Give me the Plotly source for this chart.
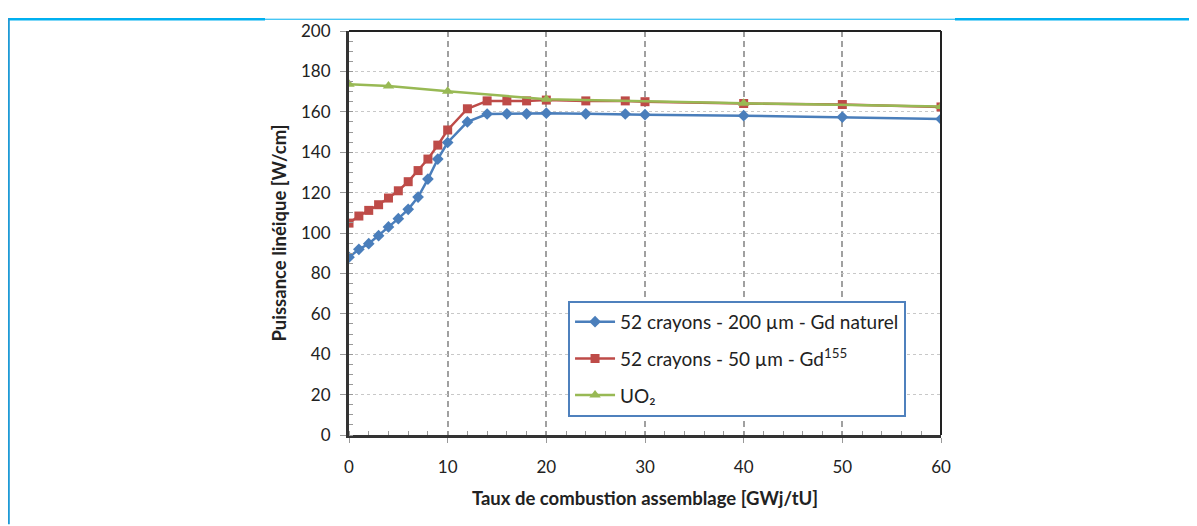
import plotly.graph_objects as go

# Data
burnup = [0, 1, 2, 3, 4, 5, 6, 7, 8, 9, 10, 12, 14, 16, 18, 20, 24, 28, 30, 40, 50, 60]
gd_nat_200 = [88, 91.9, 94.7, 98.7, 103, 107.1, 111.7, 117.8, 126.7, 136.6, 144.8, 155, 158.9,
              159, 159, 159.3, 159, 158.9, 158.6, 158.1, 157.4, 156.4]
gd155_50 = [104.9, 108.4, 111.2, 114, 117.3, 120.9, 125.4, 130.9, 136.6, 143.5, 151, 161.5, 165.4,
            165.4, 165.4, 165.8, 165.4, 165.4, 165, 164.1, 163.6, 162.4]
burnup_uo2 = [0, 4, 10, 20, 40, 60]
uo2 = [173.6, 172.8, 170.2, 166.2, 164.2, 162.6]

names = ["52 crayons - 200 µm - Gd naturel",
         "52 crayons - 50 µm - Gd<sup>155</sup>",
         "UO₂"]

x_ticks = [0, 10, 20, 30, 40, 50, 60]
y_ticks = [0, 20, 40, 60, 80, 100, 120, 140, 160, 180, 200]

BLUE = "#4A7EBB"
RED = "#BE4B48"
GREEN = "#98B954"
FONT = "Lato"

# the page body adds an 8px offset; figure is sized to fit the window
W, H = 1189, 518
L, R, T, B = 341, 933, 15, 427   # plot area in figure pixels

fig = go.Figure()
fig.add_trace(go.Scatter(x=burnup, y=gd_nat_200, name=names[0], mode="lines+markers",
                         line=dict(color=BLUE, width=2.5),
                         marker=dict(symbol="diamond", size=9, color=BLUE),
                         legendgroup="a"))
fig.add_trace(go.Scatter(x=burnup, y=gd155_50, name=names[1], mode="lines+markers",
                         line=dict(color=RED, width=2.5),
                         marker=dict(symbol="square", size=9, color=RED),
                         legendgroup="b"))
fig.add_trace(go.Scatter(x=burnup_uo2, y=uo2, name=names[2], mode="lines+markers",
                         line=dict(color=GREEN, width=2.5),
                         marker=dict(symbol="triangle-up", size=10, color=GREEN),
                         legendgroup="c"))

fig.update_layout(
    width=W, height=H,
    margin=dict(l=L, r=W - R, t=T, b=H - B),
    paper_bgcolor="white", plot_bgcolor="white",
    font=dict(family=FONT, size=16, color="#222"),
    showlegend=True,
    legend=dict(x=0.37, y=0.332, xanchor="left", yanchor="top",
                bgcolor="white", bordercolor="#4F81BD", borderwidth=2,
                font=dict(family=FONT, size=19, color="#222"),
                traceorder="grouped", tracegroupgap=9, itemwidth=40),
    xaxis=dict(range=[0, 60], tickvals=x_ticks, showgrid=True,
               gridcolor="#A0A0A0", griddash="6px,4px", gridwidth=1.5,
               showline=True, linecolor="#333", linewidth=3,
               ticks="outside", ticklen=5, tickcolor="#999", ticklabelstandoff=10,
               minor=dict(dtick=2, ticks="inside", ticklen=4, tickcolor="#999", showgrid=False),
               tickfont=dict(size=17, color="#222"), zeroline=False,
               title=dict(text="<b>Taux de combustion assemblage [GWj/tU]</b>",
                          font=dict(size=18.5, color="#222"), standoff=16)),
    yaxis=dict(range=[0, 200], tickvals=y_ticks, showgrid=True,
               gridcolor="#C8C8C8", griddash="3px,3px", gridwidth=1,
               showline=True, linecolor="#333", linewidth=3,
               ticks="outside", ticklen=6, tickcolor="#999", ticklabelstandoff=6,
               minor=dict(dtick=5, ticks="inside", ticklen=4, tickcolor="#999", showgrid=False),
               tickfont=dict(size=17, color="#222"), zeroline=False,
               title=dict(text="<b>Puissance linéique [W/cm]</b>",
                          font=dict(size=18.5, color="#222"), standoff=10)),
)

# top / right frame of the plot area
fig.add_shape(type="line", xref="paper", yref="paper", x0=0, x1=1, y0=1, y1=1,
              line=dict(color="#222", width=2))
fig.add_shape(type="line", xref="paper", yref="paper", x0=1, x1=1, y0=0, y1=1,
              line=dict(color="#222", width=2))

# decorative cyan page frame (figure pixel coordinates converted to paper)
def px(v):
    return (v - L) / (R - L)
def py(v):
    return (B - v) / (B - T)
fig.add_shape(type="line", xref="paper", yref="paper", x0=px(0), x1=px(257), y0=py(3), y1=py(3),
              line=dict(color="#00B0F0", width=2.5))
fig.add_shape(type="line", xref="paper", yref="paper", x0=px(257), x1=px(947), y0=py(3), y1=py(3),
              line=dict(color="#00B0F0", width=1))
fig.add_shape(type="line", xref="paper", yref="paper", x0=px(947), x1=px(W), y0=py(3), y1=py(3),
              line=dict(color="#00B0F0", width=2.5))
fig.add_shape(type="line", xref="paper", yref="paper", x0=px(0.8), x1=px(0.8), y0=py(2), y1=py(H),
              line=dict(color="#1E9AD6", width=2))

fig.write_html("out.html")
